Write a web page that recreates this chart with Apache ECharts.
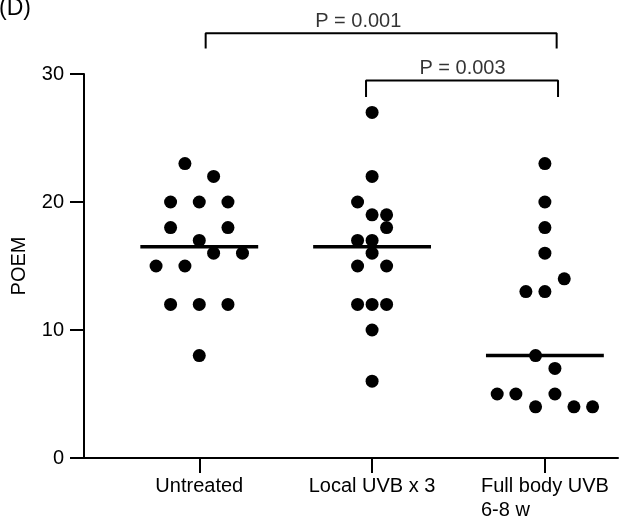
<!DOCTYPE html>
<html>
<head>
<meta charset="utf-8">
<script src="https://cdn.jsdelivr.net/npm/echarts@6/dist/echarts.min.js"></script>
<style>
  html, body { margin: 0; padding: 0; background: #ffffff; }
  #chart { width: 621px; height: 523px; }
</style>
</head>
<body>
<div id="chart"></div>
<script>
// Treatment groups, placed at x = 1, 2, 3 on the value axis
const groupNames = ['Untreated', 'Local UVB x 3', 'Full body UVB\n6-8 w'];
const groupCenters = [1, 2, 3];

// POEM score per patient, with the horizontal spread of each dot (axis units)
const untreatedPOEM   = [23, 22, 20, 20, 20, 18, 18, 17, 16, 16, 15, 15, 12, 12, 12, 8];
const untreatedJitter = [-0.083, 0.083, -0.166, 0, 0.166, -0.166, 0.166, 0, 0.083, 0.25, -0.25, -0.083, -0.166, 0, 0.166, 0];

const localPOEM   = [27, 22, 20, 19, 19, 18, 17, 17, 16, 15, 15, 12, 12, 12, 10, 6];
const localJitter = [0, 0, -0.084, 0, 0.084, 0.084, -0.084, 0, 0, -0.084, 0.084, -0.084, 0, 0.084, 0, 0];

const fullPOEM   = [23, 20, 18, 16, 14, 13, 13, 8, 7, 5, 5, 5, 4, 4, 4];
const fullJitter = [0, 0, 0, 0, 0.112, -0.11, 0, -0.054, 0.058, -0.276, -0.168, 0.058, -0.054, 0.168, 0.276];

// Pairwise comparisons: [from group, to group] and their p-value text
const comparisonPairs = [[0, 2], [1, 2]];
const comparisonText = ['P = 0.001', 'P = 0.003'];

const yTicks = [0, 10, 20, 30];

const FONT = "'Liberation Sans', Arial, sans-serif";
const groups = [
  { values: untreatedPOEM, jitter: untreatedJitter },
  { values: localPOEM, jitter: localJitter },
  { values: fullPOEM, jitter: fullJitter }
];

function median(arr) {
  const s = arr.slice().sort((a, b) => a - b);
  const n = s.length;
  return n % 2 ? s[(n - 1) / 2] : (s[n / 2 - 1] + s[n / 2]) / 2;
}

const series = [];

// Dots
groups.forEach((g, gi) => {
  series.push({
    type: 'scatter',
    symbol: 'circle',
    symbolSize: 13,
    itemStyle: { color: '#000000', opacity: 1 },
    silent: true,
    data: g.values.map((v, i) => [groupCenters[gi] + g.jitter[i], v])
  });
});

// Median bars
const medianHalfWidth = 0.341;
groups.forEach((g, gi) => {
  const m = median(g.values);
  series.push({
    type: 'line',
    showSymbol: false,
    silent: true,
    z: 3,
    lineStyle: { color: '#000000', width: 3.5 },
    data: [[groupCenters[gi] - medianHalfWidth, m], [groupCenters[gi] + medianHalfWidth, m]]
  });
});

// Significance brackets (layout in axis units)
const bracketLayout = [
  { x1: 1.037, x2: 3.068, top: 33.18, leg: 32.0, textX: 1.92 },
  { x1: 1.965, x2: 3.076, top: 29.49, leg: 28.2, textX: 2.523 }
];
comparisonPairs.forEach((pair, k) => {
  const b = bracketLayout[k];
  series.push({
    type: 'line',
    showSymbol: false,
    silent: true,
    clip: false,
    lineStyle: { color: '#000000', width: 2 },
    data: [[b.x1, b.leg], [b.x1, b.top], [b.x2, b.top], [b.x2, b.leg]]
  });
  series.push({
    type: 'scatter',
    symbolSize: 0,
    silent: true,
    clip: false,
    label: {
      show: true,
      position: 'top',
      distance: 2,
      formatter: comparisonText[k],
      color: '#000000',
      fontFamily: FONT,
      fontSize: 20
    },
    data: [[b.textX, b.top]]
  });
});

const chart = echarts.init(document.getElementById('chart'), null, { renderer: 'canvas' });
chart.setOption({
  animation: false,
  backgroundColor: '#ffffff',
  textStyle: { fontFamily: FONT },
  title: {
    text: '(D)',
    left: -1,
    top: -3,
    padding: 0,
    textStyle: { fontFamily: FONT, fontSize: 23, fontWeight: 'normal', color: '#000000' }
  },
  grid: { left: 84, right: 3, top: 74, bottom: 65, containLabel: false },
  xAxis: {
    type: 'value',
    min: 0.333,
    max: 3.423,
    splitLine: { show: false },
    axisLine: { show: true, onZero: false, lineStyle: { color: '#000000', width: 2 } },
    axisTick: { show: true, length: 15, lineStyle: { color: '#000000', width: 2 }, customValues: groupCenters },
    axisLabel: {
      show: true,
      customValues: groupCenters,
      margin: 16,
      color: '#000000',
      fontFamily: FONT,
      fontSize: 20,
      formatter: function (v) {
        const idx = groupCenters.indexOf(Math.round(v));
        const name = groupNames[idx] || '';
        const lines = name.split('\n');
        if (lines.length === 1) return '{a|' + lines[0] + '}';
        return '{a|' + lines[0] + '}\n{b|' + lines[1] + '}';
      },
      rich: {
        a: { fontFamily: FONT, fontSize: 20, color: '#000000', lineHeight: 24 },
        b: { fontFamily: FONT, fontSize: 20, color: '#000000', lineHeight: 24, align: 'left' }
      }
    }
  },
  yAxis: {
    type: 'value',
    min: 0,
    max: 30,
    interval: 10,
    name: 'POEM',
    nameLocation: 'middle',
    nameRotate: 90,
    nameGap: 55,
    nameTextStyle: { color: '#000000', fontFamily: FONT, fontSize: 20 },
    splitLine: { show: false },
    axisLine: { show: true, lineStyle: { color: '#000000', width: 2 } },
    axisTick: { show: true, length: 14, lineStyle: { color: '#000000', width: 2 } },
    axisLabel: {
      margin: 20,
      color: '#000000',
      fontFamily: FONT,
      fontSize: 20,
      formatter: function (v) { return yTicks.indexOf(v) >= 0 ? String(v) : ''; }
    }
  },
  series: series
});
</script>
</body>
</html>
